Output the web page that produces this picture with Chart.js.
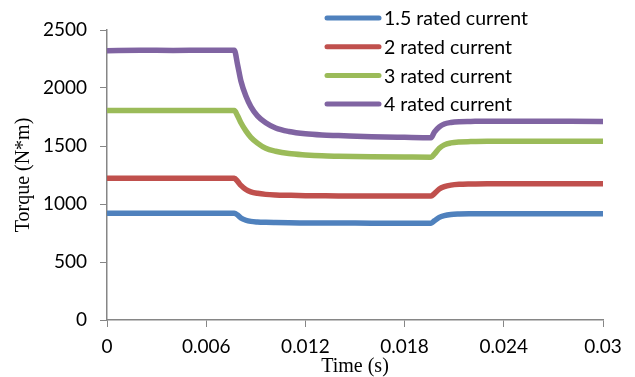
<!DOCTYPE html>
<html>
<head>
<meta charset="utf-8">
<script src="https://cdn.jsdelivr.net/npm/chart.js@4"></script>
<style>
  html, body { margin: 0; padding: 0; background: #fff; }
  #wrap { width: 635px; height: 377px; position: relative; }
</style>
</head>
<body>
<div id="wrap"><canvas id="c" width="635" height="377"></canvas></div>
<script>
// Sample times (s)
const times = [0, 0.002, 0.004, 0.006, 0.0077, 0.0079, 0.0081, 0.0084, 0.0087, 0.0091, 0.0096,
  0.0102, 0.011, 0.012, 0.013, 0.014, 0.016, 0.018, 0.0196, 0.0198, 0.0201, 0.0204, 0.0208,
  0.0213, 0.022, 0.023, 0.024, 0.026, 0.028, 0.03];

// Torque (N*m) for each current level
const torque15 = [920, 921, 920, 921, 920, 905, 880, 860, 850, 845, 842,
  840, 838, 837, 836, 836, 835, 835, 835, 855, 885, 900, 910,
  914, 916, 917, 917, 917, 917, 917];
const torque2 = [1222, 1223, 1222, 1223, 1222, 1195, 1160, 1125, 1105, 1092, 1083,
  1078, 1075, 1072, 1071, 1070, 1069, 1068, 1068, 1090, 1130, 1150, 1163,
  1170, 1173, 1175, 1175, 1175, 1175, 1175];
const torque3 = [1805, 1807, 1806, 1807, 1805, 1760, 1700, 1630, 1575, 1525, 1480,
  1455, 1435, 1423, 1415, 1412, 1408, 1405, 1403, 1430, 1480, 1510, 1527,
  1535, 1538, 1540, 1540, 1540, 1540, 1540];
const torque4 = [2322, 2325, 2324, 2326, 2325, 2200, 2060, 1930, 1840, 1760, 1700,
  1655, 1625, 1605, 1595, 1590, 1580, 1575, 1572, 1620, 1665, 1690, 1703,
  1710, 1712, 1714, 1714, 1714, 1713, 1712];

const seriesNames = ['1.5 rated current', '2 rated current', '3 rated current', '4 rated current'];
const seriesColors = ['#4F81BD', '#C0504D', '#9BBB59', '#8064A2'];
const xTicks = [0, 0.006, 0.012, 0.018, 0.024, 0.03];
const xTickLabels = ['0', '0.006', '0.012', '0.018', '0.024', '0.03'];
const yTicks = [0, 500, 1000, 1500, 2000, 2500];
const yTickLabels = ['0', '500', '1000', '1500', '2000', '2500'];

const seriesValues = [torque15, torque2, torque3, torque4];
const datasets = seriesValues.map((vals, i) => ({
  label: seriesNames[i],
  data: vals.map((v, k) => ({ x: times[k], y: v })),
  borderColor: seriesColors[i],
  backgroundColor: seriesColors[i],
  borderWidth: 5.5,
  pointRadius: 0,
  cubicInterpolationMode: 'monotone',
  borderCapStyle: 'round'
}));

const tickFont = { family: 'Lato', size: 19 };
const axisGray = '#868686';

// Legend drawn inside the plot area, top right
const insideLegend = {
  id: 'insideLegend',
  afterDraw(chart) {
    const ctx = chart.ctx;
    ctx.save();
    ctx.font = '19.5px Lato';
    ctx.textBaseline = 'middle';
    chart.data.datasets.forEach((ds, i) => {
      const y = 18 + i * 28.7;
      ctx.strokeStyle = ds.borderColor;
      ctx.lineWidth = 5;
      ctx.lineCap = 'round';
      ctx.beginPath();
      ctx.moveTo(327, y);
      ctx.lineTo(379, y);
      ctx.stroke();
      ctx.fillStyle = '#000';
      ctx.fillText(ds.label, 384, y + 1);
    });
    ctx.restore();
  }
};

new Chart(document.getElementById('c'), {
  type: 'line',
  data: { datasets },
  options: {
    responsive: false,
    devicePixelRatio: 1,
    animation: false,
    layout: { padding: { top: 30, right: 32, left: 12, bottom: 0 } },
    plugins: { legend: { display: false }, tooltip: { enabled: false } },
    scales: {
      x: {
        type: 'linear',
        min: 0, max: 0.03,
        afterBuildTicks: (scale) => { scale.ticks = xTicks.map(v => ({ value: v })); },
        afterFit: (scale) => { scale.height = 57; },
        ticks: {
          color: '#000',
          font: tickFont,
          padding: 8,
          maxRotation: 0,
          autoSkip: false,
          callback: (v, idx) => xTickLabels[idx]
        },
        grid: { drawOnChartArea: false, drawTicks: true, tickLength: 7, color: axisGray, lineWidth: 1 },
        border: { color: axisGray, width: 1.5 },
        title: {
          display: true,
          text: 'Time (s)',
          font: { family: 'Liberation Serif', size: 20, lineHeight: 1 },
          color: '#000',
          padding: { top: 0, bottom: 0 }
        }
      },
      y: {
        min: 0, max: 2500,
        afterBuildTicks: (scale) => { scale.ticks = yTicks.map(v => ({ value: v })); },
        afterFit: (scale) => { scale.width = 95; },
        ticks: {
          color: '#000',
          font: tickFont,
          padding: 13,
          callback: (v, idx) => yTickLabels[idx]
        },
        grid: { drawOnChartArea: false, drawTicks: true, tickLength: 7, color: axisGray, lineWidth: 1 },
        border: { color: axisGray, width: 1.5 },
        title: {
          display: true,
          text: 'Torque (N*m)',
          font: { family: 'Liberation Serif', size: 20 },
          color: '#000',
          padding: { top: 0, bottom: 4 }
        }
      }
    }
  },
  plugins: [insideLegend]
});
</script>
</body>
</html>
